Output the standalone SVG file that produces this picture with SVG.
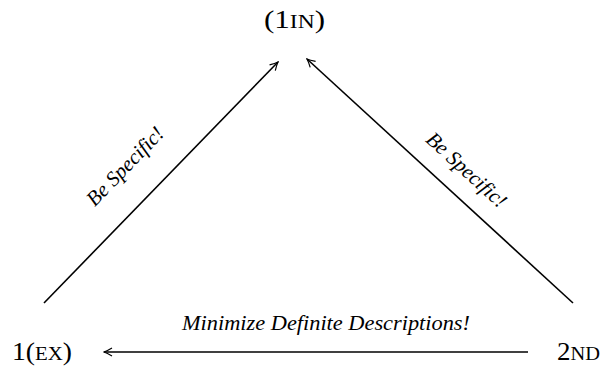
<svg xmlns="http://www.w3.org/2000/svg" width="603" height="368" viewBox="0 0 603 368">
<defs>
<marker id="ah" viewBox="0 0 10 10" refX="9" refY="5" markerWidth="10" markerHeight="10" markerUnits="userSpaceOnUse" orient="auto">
<path d="M1,1 Q6,4 9,5 Q6,6 1,9" fill="none" stroke="#000" stroke-width="1.2"/>
</marker>
</defs>
<style>
.node{font-family:"Liberation Serif","DejaVu Serif",serif;font-size:24.5px;fill:#000}
.sc{font-size:18.5px}
.lbl{font-family:"Liberation Serif","DejaVu Serif",serif;font-style:italic;font-size:21px;fill:#000}
.edge{stroke:#000;stroke-width:1.6;fill:none;marker-end:url(#ah)}
</style>
<rect width="603" height="368" fill="#fff"/>
<g id="connectors">
<line class="edge" x1="44" y1="303" x2="278" y2="62"/>
<line class="edge" x1="573" y1="303" x2="307" y2="59"/>
<line class="edge" x1="528" y1="352" x2="104" y2="352"/>
<text class="lbl" text-anchor="middle" transform="translate(130,171) rotate(-45.8)">Be Specific!</text>
<text class="lbl" text-anchor="middle" transform="translate(462,175) rotate(42.5)">Be Specific!</text>
<text class="lbl" text-anchor="middle" x="326" y="330" textLength="288" lengthAdjust="spacingAndGlyphs">Minimize Definite Descriptions!</text>
</g>
<g id="node-1in"><text class="node" x="264" y="28" textLength="61" lengthAdjust="spacingAndGlyphs">(1<tspan class="sc">IN</tspan>)</text></g>
<g id="node-1ex"><text class="node" x="12" y="360" textLength="60" lengthAdjust="spacingAndGlyphs">1(<tspan class="sc">EX</tspan>)</text></g>
<g id="node-2nd"><text class="node" x="557" y="360" textLength="43" lengthAdjust="spacingAndGlyphs">2<tspan class="sc">ND</tspan></text></g>
</svg>
